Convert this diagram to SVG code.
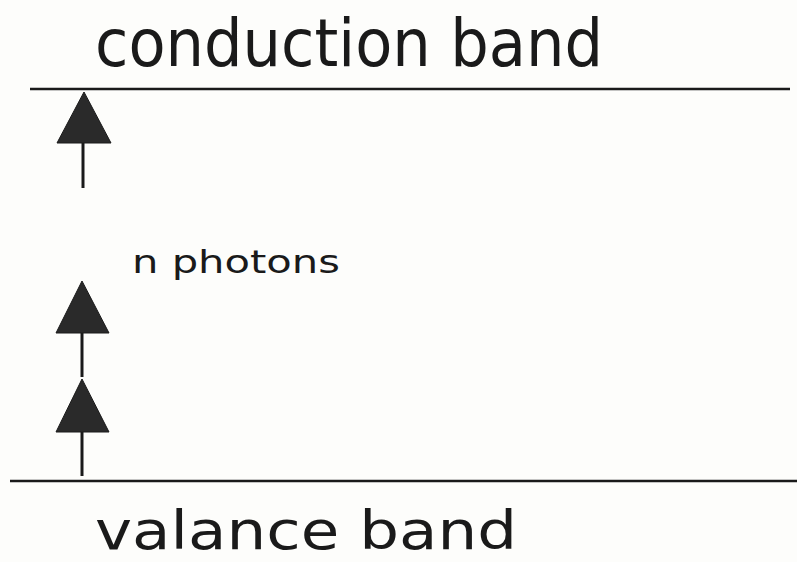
<svg xmlns="http://www.w3.org/2000/svg" width="797" height="562" viewBox="0 0 797 562">
<style>
.band{stroke:#1a1a1a;stroke-width:2.5;fill:none}
.shaft{stroke:#1a1a1a;stroke-width:3;fill:none}
.head{fill:#2a2a2a;stroke:#1a1a1a;stroke-width:1}
text{font-family:"DejaVu Sans","Liberation Sans",sans-serif;fill:#1a1a1a}
</style>
<rect width="797" height="562" fill="#fdfdfb"/>
<g id="conduction-band">
<line class="band" x1="30" y1="89" x2="790" y2="89"/>
<text x="95" y="66" font-size="66" textLength="508" lengthAdjust="spacingAndGlyphs">conduction band</text>
</g>
<g id="valance-band">
<line class="band" x1="10" y1="481" x2="797" y2="481"/>
<text x="95" y="549" font-size="54" textLength="422" lengthAdjust="spacingAndGlyphs">valance band</text>
</g>
<g id="label">
<text x="132" y="273" font-size="32" textLength="208" lengthAdjust="spacingAndGlyphs">n photons</text>
</g>
<g id="connectors">
<line class="shaft" x1="83" y1="143" x2="83" y2="188"/>
<polygon class="head" points="84,92 57,143 111,143"/>
<line class="shaft" x1="82" y1="333" x2="82" y2="377"/>
<polygon class="head" points="82,281 56,333 109,333"/>
<line class="shaft" x1="82" y1="432" x2="82" y2="476"/>
<polygon class="head" points="82,379 56,432 109,432"/>
</g>
</svg>
